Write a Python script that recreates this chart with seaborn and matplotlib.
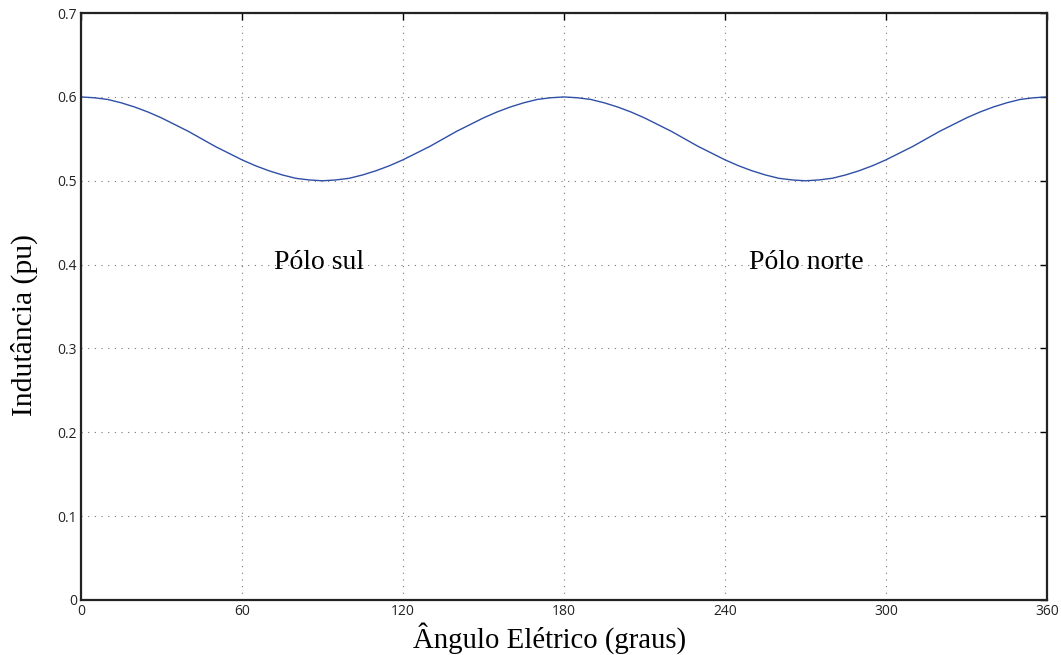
import matplotlib
matplotlib.use("Agg")
import matplotlib.pyplot as plt
import seaborn as sns
import pandas as pd

# Electrical angle (degrees), sampled every 5 degrees
angle_deg = list(range(0, 361, 5))

# Inductance (pu) over one full electrical cycle
quarter = [0.600, 0.599, 0.597, 0.593, 0.588, 0.582, 0.575, 0.567, 0.559, 0.550,
           0.541, 0.533, 0.525, 0.518, 0.512, 0.507, 0.503, 0.501, 0.500]
half = quarter + quarter[-2::-1]
inductance_pu = half + half[1:]

x_ticks = [0, 60, 120, 180, 240, 300, 360]
y_ticks = [0, 0.1, 0.2, 0.3, 0.4, 0.5, 0.6, 0.7]
y_tick_labels = ["0", "0.1", "0.2", "0.3", "0.4", "0.5", "0.6", "0.7"]

region_labels = ["Pólo sul", "Pólo norte"]
region_x = [72, 249]
region_y = [0.395, 0.395]

df = pd.DataFrame({"angle": angle_deg, "L": inductance_pu})

sns.set_style("white")
plt.rcParams["font.family"] = ["Open Sans", "DejaVu Sans"]

W, H = 1061, 655
fig = plt.figure(figsize=(W / 100, H / 100), dpi=100)
ax = fig.add_axes([0.0763, 0.084, 0.9105, 0.896])

sns.lineplot(data=df, x="angle", y="L", ax=ax, color="#2f4fa6", linewidth=1.0)

ax.set_xlim(0, 360)
ax.set_ylim(0, 0.7)
ax.set_xticks(x_ticks)
ax.set_xticklabels([str(t) for t in x_ticks])
ax.set_yticks(y_ticks)
ax.set_yticklabels(y_tick_labels)
ax.set_xlabel("")
ax.set_ylabel("")

ax.grid(True, linestyle=(0, (1, 5)), color="#777777", linewidth=0.8)
ax.tick_params(direction="in", length=5, width=1.0, color="black",
               top=True, right=True, labelsize=10, labelcolor="#222222", pad=3)
for spine in ax.spines.values():
    spine.set_color("#222222")
    spine.set_linewidth(1.6)

serif = ["Liberation Serif", "DejaVu Serif"]
# Axis titles placed in figure pixels
fig.text(550 / W, (H - 648) / H, "Ângulo Elétrico (graus)", fontsize=20.7,
         family=serif, color="black", ha="center", va="baseline")
fig.text(24 / W, (H - 325) / H, "Indutância (pu)", fontsize=21.3,
         family=serif, color="black", ha="center", va="center", rotation=90)

for lbl, xv, yv in zip(region_labels, region_x, region_y):
    ax.text(xv, yv, lbl, fontsize=20, family=serif, color="black",
            ha="left", va="baseline")

fig.savefig("out.png", dpi=100)
